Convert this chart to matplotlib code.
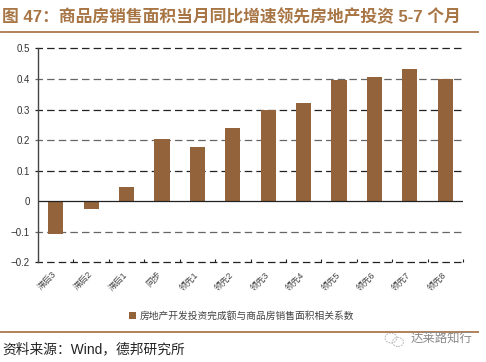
import matplotlib
matplotlib.use("Agg")
import matplotlib.pyplot as plt
from matplotlib.patches import Ellipse

plt.rcParams["font.family"] = ["Liberation Sans", "Noto Sans CJK SC", "DejaVu Sans"]

labels = ["滞后3", "滞后2", "滞后1", "同步", "领先1", "领先2", "领先3", "领先4", "领先5", "领先6", "领先7", "领先8"]
values = [-0.107, -0.025, 0.045, 0.205, 0.177, 0.240, 0.300, 0.322, 0.397, 0.408, 0.433, 0.400]
yticks = [-0.2, -0.1, 0, 0.1, 0.2, 0.3, 0.4, 0.5]
ylabels = ["−0.2", "−0.1", "0", "0.1", "0.2", "0.3", "0.4", "0.5"]

W, H = 486, 362
BROWN = "#93633B"
RULE = "#B0825A"

fig = plt.figure(figsize=(W / 100, H / 100), dpi=100)
ax = fig.add_axes([38 / W, 1 - 262.3 / H, 425 / W, 213.8 / H])
ax.bar(range(len(values)), values, width=0.43, color=BROWN, zorder=3, label="房地产开发投资完成额与商品房销售面积相关系数")
ax.set_xlim(-0.5, 11.5)
ax.set_ylim(-0.2, 0.5)
ax.set_yticks(yticks, ylabels, fontsize=7, color="#333333")
ax.set_xticks([i - 0.5 for i in range(13)], [""] * 13)
ax.tick_params(axis="x", direction="in", length=2, width=0.8, color="#222222", pad=0)
ax.tick_params(axis="y", length=0, pad=6)
for i, lab in enumerate(labels):
    ax.annotate(lab, (i, -0.2), xytext=(-6, -5.5), textcoords="offset points", rotation=45,
                ha="center", va="top", fontsize=6.3, color="#444444")
for s in ["top", "right", "bottom"]:
    ax.spines[s].set_visible(False)
ax.spines["left"].set_color("#444444")
ax.spines["left"].set_linewidth(1.0)
ax.spines["left"].set_zorder(5)
for t in yticks:
    if t == 0:
        ax.axhline(0, color="#222222", lw=0.9, zorder=4)
    else:
        # 0.4, 0.2 and -0.1 come out softer in the reference
        c = "#666666" if t in (0.4, 0.2, -0.1) else "#222222"
        ax.axhline(t, color=c, lw=0.9, dashes=(6, 3.3), zorder=1, xmin=-0.007, clip_on=False)
ax.legend(loc="upper center", bbox_to_anchor=(0.5 - 0.021, -0.185), frameon=False, fontsize=7,
          handlelength=0.7, handleheight=0.7, handletextpad=0.4, labelcolor="#444444")

fig.text(2 / W, 1 - 16.5 / H, "图 47：商品房销售面积当月同比增速领先房地产投资 5-7 个月", fontsize=12.1,
         fontweight="bold", color="#A87545", va="center")
fig.add_artist(plt.Line2D([1 / W, 478 / W], [1 - 32 / H] * 2, color=RULE, lw=1.4))
fig.add_artist(plt.Line2D([1 / W, 478 / W], [1 - 331.5 / H] * 2, color=RULE, lw=1.4))
fig.text(2 / W, 1 - 349 / H, "资料来源：Wind，德邦研究所", fontsize=9.9, color="#222222", va="center")

# watermark
fig.text(411 / W, 1 - 340 / H, "达莱路知行", fontsize=8.9, color="#8a8a8a", va="center")
for cx, cy, w, h in [(391, 338, 12, 10), (398, 342, 11, 9)]:
    fig.add_artist(Ellipse((cx / W, 1 - cy / H), w / W, h / H, transform=fig.transFigure,
                           fc="none", ec="#bbbbbb", lw=0.7, ls=(0, (2, 1))))

fig.savefig("out.png", dpi=100)
